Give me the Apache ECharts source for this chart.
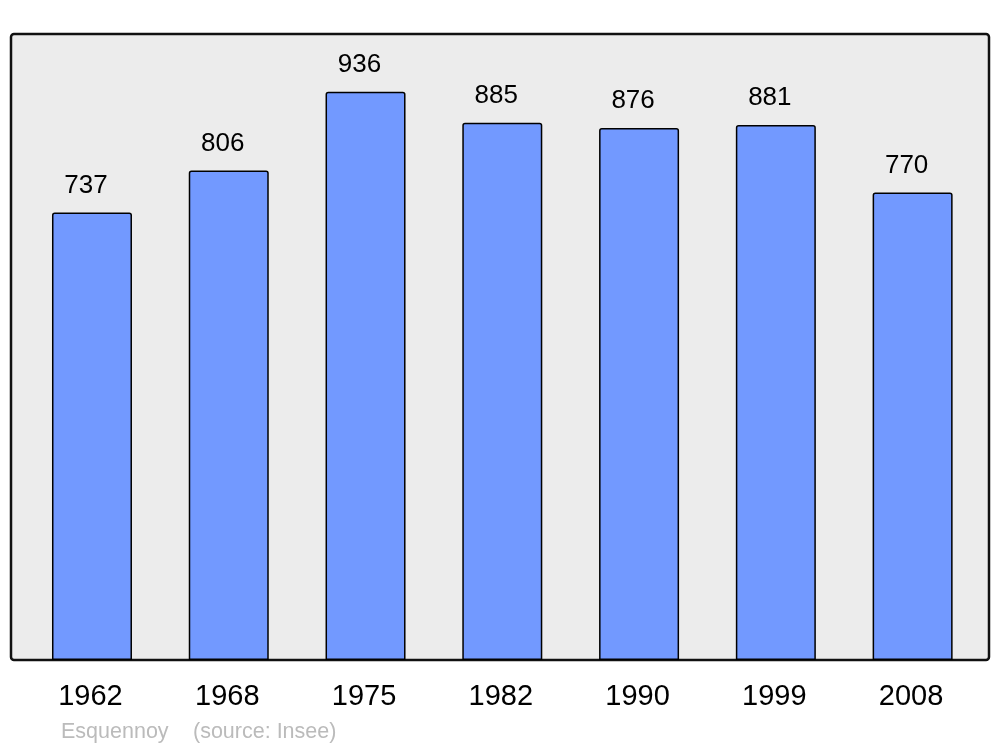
<!DOCTYPE html>
<html>
<head>
<meta charset="utf-8">
<script src="https://cdn.jsdelivr.net/npm/echarts@6/dist/echarts.min.js"></script>
<style>html,body{margin:0;padding:0;background:#fff}#c{width:1000px;height:747px}</style>
</head>
<body>
<div id="c"></div>
<script>
const years = ['1962', '1968', '1975', '1982', '1990', '1999', '2008'];
const population = [737, 806, 936, 885, 876, 881, 770];
const footerTitle = 'Esquennoy';
const footerSource = '(source: Insee)';

const chart = echarts.init(document.getElementById('c'), null, {renderer: 'canvas'});
chart.setOption({
  animation: false,
  backgroundColor: '#ffffff',
  graphic: [
    {type: 'rect', z: -10, shape: {x: 11, y: 34, width: 978, height: 626, r: 3},
     style: {fill: '#ececec', stroke: '#111', lineWidth: 2.5}},
    {type: 'text', left: 61, top: 721, style: {text: footerTitle, fill: '#bbbbbb', font: '21.5px "Liberation Sans", Arial, sans-serif'}},
    {type: 'text', left: 193, top: 721, style: {text: footerSource, fill: '#bbbbbb', font: '21.5px "Liberation Sans", Arial, sans-serif'}}
  ],
  grid: {left: 23.6, right: 19, top: 34, bottom: 87},
  xAxis: {
    type: 'category', data: years,
    axisLine: {show: false}, axisTick: {show: false},
    axisLabel: {color: '#000', fontSize: 29, fontFamily: '"Liberation Sans", Arial, sans-serif', margin: 22, padding: [0, 3, 0, 0]}
  },
  yAxis: {
    type: 'value', min: 0, max: 1031,
    show: false, splitLine: {show: false}
  },
  series: [{
    type: 'bar', data: population, barWidth: 80,
    itemStyle: {color: '#7299ff', borderColor: '#000', borderWidth: 1.5, borderRadius: [2, 2, 0, 0]},
    label: {show: true, position: 'top', distance: 14, offset: [-6, 0], color: '#000', fontSize: 26,
            fontFamily: '"Liberation Sans", Arial, sans-serif'}
  }]
});
</script>
</body>
</html>
